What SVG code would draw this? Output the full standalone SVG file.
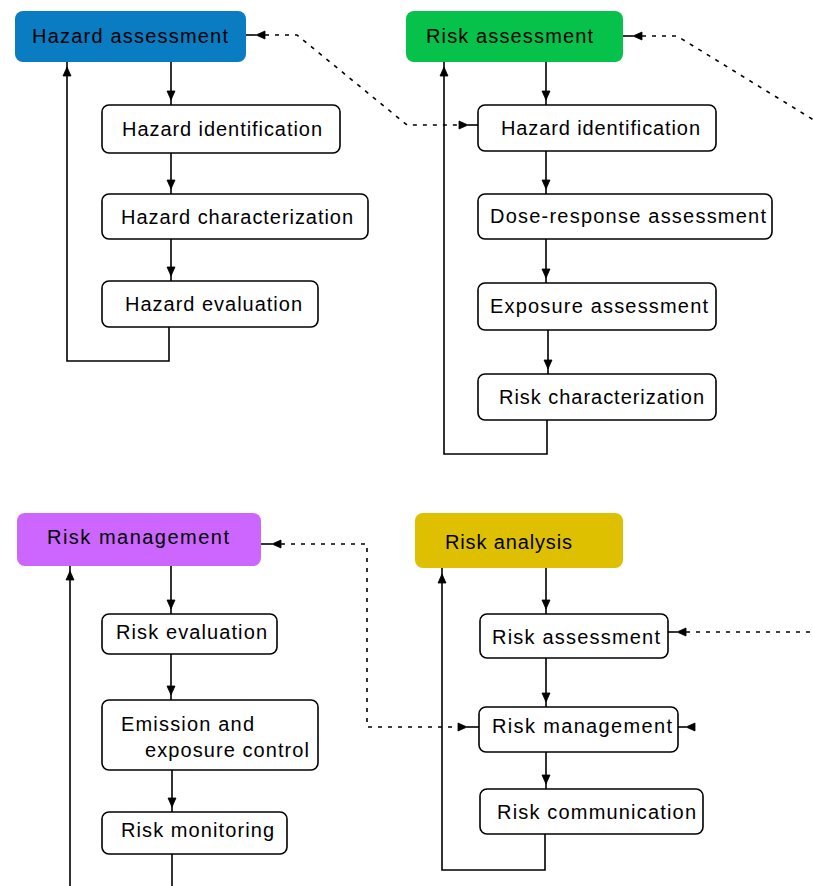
<svg xmlns="http://www.w3.org/2000/svg" width="813" height="886" viewBox="0 0 813 886">
<style>
.t{font-family:"Liberation Sans",Arial,sans-serif;font-size:20px;fill:#000;}
.b{fill:#fff;stroke:#000;stroke-width:1.6;}
.h{stroke:none;}
.c{fill:none;stroke:#000;stroke-width:1.6;}
.d{fill:none;stroke:#000;stroke-width:1.6;stroke-dasharray:4 6;}
.a{fill:#000;stroke:#000;stroke-width:0.8;stroke-linejoin:round;}
</style>
<rect width="813" height="886" fill="#fff"/>
<g id="connectors">
<!-- solid vertical arrows -->
<path class="c" d="M171 62V105M171 153V194M171 239V281M546 62V105M546 151V194M546 239V283M548 330V374M171 566V614M171 654V700M172 770V812M546 568V614M546 658V707M546 752V789"/>
<polygon class="a" points="167,91 175,91 171,100"/>
<polygon class="a" points="167,180 175,180 171,189"/>
<polygon class="a" points="167,267 175,267 171,276"/>
<polygon class="a" points="542,91 550,91 546,100"/>
<polygon class="a" points="542,180 550,180 546,189"/>
<polygon class="a" points="542,269 550,269 546,278"/>
<polygon class="a" points="544,360 552,360 548,369"/>
<polygon class="a" points="167,600 175,600 171,609"/>
<polygon class="a" points="167,686 175,686 171,695"/>
<polygon class="a" points="168,798 176,798 172,807"/>
<polygon class="a" points="542,600 550,600 546,609"/>
<polygon class="a" points="542,693 550,693 546,702"/>
<polygon class="a" points="542,775 550,775 546,784"/>
<!-- feedback loops -->
<path class="c" d="M169 327V361H67V62"/>
<polygon class="a" points="63,76 71,76 67,67"/>
<path class="c" d="M547 420V454H444V62"/>
<polygon class="a" points="440,76 448,76 444,67"/>
<path class="c" d="M172 854V890"/>
<path class="c" d="M70 890V566"/>
<polygon class="a" points="66,580 74,580 70,571"/>
<path class="c" d="M545 834V870H442V568"/>
<polygon class="a" points="438,583 446,583 442,574"/>
<!-- dotted connectors -->
<path class="c" d="M246 35H256"/>
<polygon class="a" points="256,35 265,31 265,39"/>
<path class="d" d="M265 35H297L407 125H459"/>
<polygon class="a" points="468,125 459,121 459,129"/>
<path class="c" d="M468 125H478"/>
<path class="c" d="M623 36H633"/>
<polygon class="a" points="633,36 642,32 642,40"/>
<path class="d" d="M642 36H677L830 130"/>
<path class="c" d="M261 544H272"/>
<polygon class="a" points="272,544 281,540 281,548"/>
<path class="d" d="M281 544H367V727H458"/>
<polygon class="a" points="467,727 458,723 458,731"/>
<path class="c" d="M467 727H479"/>
<path class="c" d="M668 632H677"/>
<polygon class="a" points="677,632 686,628 686,636"/>
<path class="d" d="M686 632H813"/>
<path class="c" d="M678 727H686"/>
<polygon class="a" points="686,727 695,723 695,731"/>
</g>
<g id="hazard-assessment">
<rect class="h" x="15" y="11" width="231" height="51" rx="8" fill="#0a7cc1"/>
<text class="t" x="32" y="43" textLength="196" lengthAdjust="spacing">Hazard assessment</text>
</g>
<g id="hazard-identification-1">
<rect class="b" x="102" y="105" width="238" height="48" rx="7"/>
<text class="t" x="122" y="136" textLength="200" lengthAdjust="spacing">Hazard identification</text>
</g>
<g id="hazard-characterization">
<rect class="b" x="102" y="194" width="266" height="45" rx="7"/>
<text class="t" x="121" y="224" textLength="232" lengthAdjust="spacing">Hazard characterization</text>
</g>
<g id="hazard-evaluation">
<rect class="b" x="102" y="281" width="216" height="46" rx="7"/>
<text class="t" x="125" y="311" textLength="177" lengthAdjust="spacing">Hazard evaluation</text>
</g>
<g id="risk-assessment-top">
<rect class="h" x="406" y="11" width="217" height="51" rx="8" fill="#06c24a"/>
<text class="t" x="426" y="43" textLength="167" lengthAdjust="spacing">Risk assessment</text>
</g>
<g id="hazard-identification-2">
<rect class="b" x="478" y="105" width="238" height="46" rx="7"/>
<text class="t" x="501" y="135" textLength="199" lengthAdjust="spacing">Hazard identification</text>
</g>
<g id="dose-response">
<rect class="b" x="478" y="194" width="294" height="45" rx="7"/>
<text class="t" x="490" y="223" textLength="276" lengthAdjust="spacing">Dose-response assessment</text>
</g>
<g id="exposure-assessment">
<rect class="b" x="478" y="283" width="238" height="47" rx="7"/>
<text class="t" x="490" y="313" textLength="218" lengthAdjust="spacing">Exposure assessment</text>
</g>
<g id="risk-characterization">
<rect class="b" x="478" y="374" width="238" height="46" rx="7"/>
<text class="t" x="499" y="404" textLength="205" lengthAdjust="spacing">Risk characterization</text>
</g>
<g id="risk-management-top">
<rect class="h" x="17" y="513" width="244" height="53" rx="8" fill="#cc66ff"/>
<text class="t" x="47" y="544" textLength="182" lengthAdjust="spacing">Risk management</text>
</g>
<g id="risk-evaluation">
<rect class="b" x="102" y="614" width="175" height="40" rx="7"/>
<text class="t" x="116" y="639" textLength="151" lengthAdjust="spacing">Risk evaluation</text>
</g>
<g id="emission-control">
<rect class="b" x="102" y="700" width="216" height="70" rx="7"/>
<text class="t" x="121" y="731" textLength="133" lengthAdjust="spacing">Emission and</text>
<text class="t" x="145" y="757" textLength="164" lengthAdjust="spacing">exposure control</text>
</g>
<g id="risk-monitoring">
<rect class="b" x="102" y="812" width="185" height="42" rx="7"/>
<text class="t" x="121" y="837" textLength="153" lengthAdjust="spacing">Risk monitoring</text>
</g>
<g id="risk-analysis">
<rect class="h" x="415" y="513" width="208" height="55" rx="8" fill="#dfc000"/>
<text class="t" x="445" y="549" textLength="127" lengthAdjust="spacing">Risk analysis</text>
</g>
<g id="risk-assessment-box">
<rect class="b" x="480" y="614" width="188" height="44" rx="7"/>
<text class="t" x="492" y="644" textLength="168" lengthAdjust="spacing">Risk assessment</text>
</g>
<g id="risk-management-box">
<rect class="b" x="479" y="707" width="199" height="45" rx="7"/>
<text class="t" x="492" y="733" textLength="180" lengthAdjust="spacing">Risk management</text>
</g>
<g id="risk-communication">
<rect class="b" x="480" y="789" width="223" height="45" rx="7"/>
<text class="t" x="497" y="819" textLength="199" lengthAdjust="spacing">Risk communication</text>
</g>
</svg>
